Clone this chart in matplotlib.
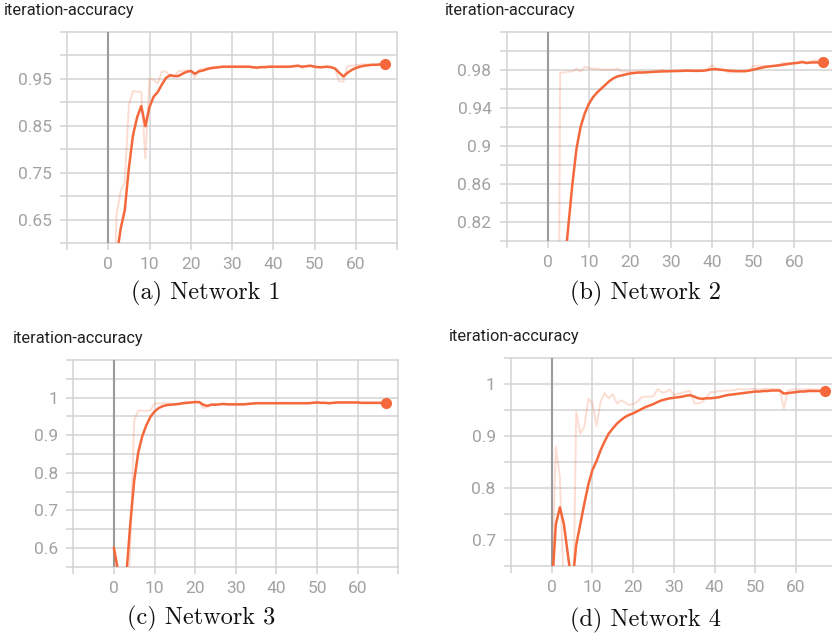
import matplotlib
matplotlib.use("Agg")
import matplotlib.pyplot as plt
import numpy as np

# ---------------- data ----------------
steps = list(range(68))

raw_a = [0.30, 0.35, 0.66, 0.71, 0.73, 0.895, 0.924, 0.923, 0.922, 0.78,
         0.950, 0.948, 0.940, 0.965, 0.966, 0.955, 0.955, 0.966, 0.967, 0.968,
         0.968, 0.953, 0.970, 0.971, 0.973, 0.975, 0.976, 0.976, 0.977, 0.976,
         0.976, 0.976, 0.976, 0.976, 0.976, 0.973, 0.974, 0.976, 0.976, 0.976,
         0.976, 0.976, 0.976, 0.975, 0.976, 0.978, 0.979, 0.973, 0.978, 0.979,
         0.975, 0.975, 0.975, 0.977, 0.975, 0.970, 0.945, 0.944, 0.978, 0.978,
         0.979, 0.980, 0.981, 0.981, 0.981, 0.981, 0.982, 0.981]
smooth_a = [0.30, 0.45, 0.57, 0.63, 0.67, 0.76, 0.83, 0.868, 0.892, 0.849,
            0.890, 0.912, 0.922, 0.938, 0.952, 0.958, 0.956, 0.956, 0.961, 0.965,
            0.967, 0.961, 0.966, 0.968, 0.971, 0.973, 0.974, 0.975, 0.976, 0.976,
            0.976, 0.976, 0.976, 0.976, 0.976, 0.975, 0.974, 0.975, 0.975, 0.976,
            0.976, 0.976, 0.976, 0.976, 0.976, 0.977, 0.978, 0.976, 0.977, 0.978,
            0.976, 0.975, 0.975, 0.976, 0.975, 0.972, 0.963, 0.955, 0.963, 0.969,
            0.973, 0.976, 0.978, 0.979, 0.980, 0.980, 0.981, 0.981]

raw_b = [0.10, 0.10, 0.10, 0.977, 0.977, 0.978, 0.978, 0.981, 0.978, 0.983,
         0.982, 0.981, 0.981, 0.980, 0.980, 0.980, 0.980, 0.981, 0.978, 0.978,
         0.978, 0.978, 0.978, 0.978, 0.978, 0.978, 0.978, 0.979, 0.980, 0.978,
         0.979, 0.979, 0.979, 0.979, 0.980, 0.979, 0.979, 0.979, 0.979, 0.981,
         0.985, 0.981, 0.980, 0.980, 0.977, 0.977, 0.978, 0.978, 0.978, 0.979,
         0.984, 0.984, 0.984, 0.984, 0.983, 0.984, 0.984, 0.987, 0.987, 0.987,
         0.987, 0.988, 0.989, 0.986, 0.989, 0.990, 0.990, 0.988]
smooth_b = [0.10, 0.20, 0.35, 0.62, 0.77, 0.815, 0.860, 0.897, 0.920, 0.934,
            0.944, 0.951, 0.956, 0.960, 0.964, 0.968, 0.971, 0.973, 0.974, 0.975,
            0.976, 0.9765, 0.977, 0.977, 0.9772, 0.9775, 0.9778, 0.978, 0.9782, 0.9783,
            0.9785, 0.9785, 0.9787, 0.9788, 0.979, 0.9788, 0.9788, 0.9788, 0.979, 0.9797,
            0.9805, 0.9805, 0.980, 0.9795, 0.979, 0.9788, 0.9785, 0.9785, 0.9785, 0.979,
            0.980, 0.981, 0.982, 0.983, 0.9835, 0.984, 0.9845, 0.985, 0.9857, 0.9863,
            0.9868, 0.9873, 0.988, 0.9872, 0.9875, 0.9877, 0.9877, 0.9877]

raw_c = [0.60, 0.45, 0.30, 0.35, 0.60, 0.94, 0.966, 0.965, 0.965, 0.966,
         0.984, 0.984, 0.985, 0.985, 0.984, 0.983, 0.984, 0.986, 0.987, 0.988,
         0.988, 0.988, 0.972, 0.975, 0.984, 0.982, 0.983, 0.983, 0.982, 0.982,
         0.982, 0.982, 0.982, 0.984, 0.985, 0.985, 0.985, 0.985, 0.985, 0.985,
         0.985, 0.986, 0.986, 0.985, 0.985, 0.985, 0.985, 0.985, 0.986, 0.987,
         0.988, 0.986, 0.986, 0.985, 0.987, 0.987, 0.987, 0.988, 0.987, 0.987,
         0.987, 0.986, 0.986, 0.986, 0.986, 0.986, 0.986, 0.986]
smooth_c = [0.60, 0.54, 0.45, 0.52, 0.66, 0.78, 0.855, 0.898, 0.927, 0.949,
            0.963, 0.972, 0.977, 0.980, 0.981, 0.982, 0.983, 0.985, 0.986, 0.987,
            0.988, 0.988, 0.981, 0.978, 0.981, 0.981, 0.982, 0.983, 0.982, 0.982,
            0.982, 0.982, 0.982, 0.983, 0.984, 0.985, 0.985, 0.985, 0.985, 0.985,
            0.985, 0.985, 0.985, 0.985, 0.985, 0.985, 0.985, 0.985, 0.985, 0.986,
            0.987, 0.986, 0.986, 0.985, 0.986, 0.987, 0.987, 0.987, 0.987, 0.987,
            0.987, 0.986, 0.986, 0.986, 0.986, 0.986, 0.986, 0.986]

raw_d = [0.60, 0.88, 0.82, 0.60, 0.45, 0.40, 0.947, 0.905, 0.918, 0.972,
         0.963, 0.920, 0.966, 0.983, 0.973, 0.981, 0.963, 0.969, 0.965, 0.960,
         0.962, 0.966, 0.975, 0.976, 0.976, 0.977, 0.991, 0.984, 0.985, 0.990,
         0.979, 0.982, 0.983, 0.986, 0.987, 0.963, 0.963, 0.966, 0.975, 0.985,
         0.985, 0.987, 0.987, 0.988, 0.988, 0.989, 0.991, 0.990, 0.990, 0.991,
         0.991, 0.990, 0.991, 0.991, 0.991, 0.991, 0.990, 0.953, 0.988, 0.990,
         0.990, 0.990, 0.990, 0.991, 0.990, 0.990, 0.989, 0.988]
smooth_d = [0.60, 0.73, 0.763, 0.73, 0.67, 0.61, 0.69, 0.73, 0.77, 0.807,
            0.835, 0.852, 0.873, 0.890, 0.905, 0.915, 0.924, 0.931, 0.937, 0.941,
            0.944, 0.948, 0.952, 0.956, 0.959, 0.962, 0.966, 0.969, 0.971, 0.973,
            0.974, 0.975, 0.976, 0.978, 0.979, 0.976, 0.973, 0.972, 0.973, 0.973,
            0.974, 0.975, 0.977, 0.979, 0.980, 0.981, 0.982, 0.983, 0.984, 0.985,
            0.986, 0.986, 0.987, 0.987, 0.988, 0.988, 0.988, 0.982, 0.983, 0.984,
            0.985, 0.986, 0.986, 0.987, 0.987, 0.987, 0.987, 0.987]

x_ticks = [-10, 0, 10, 20, 30, 40, 50, 60, 70]
x_labels = ["", "0", "10", "20", "30", "40", "50", "60", ""]

yticks_a = [0.60, 0.65, 0.70, 0.75, 0.80, 0.85, 0.90, 0.95, 1.00, 1.05]
ylabels_a = ["", "0.65", "", "0.75", "", "0.85", "", "0.95", "", ""]
yticks_b = [0.80, 0.82, 0.84, 0.86, 0.88, 0.90, 0.92, 0.94, 0.96, 0.98, 1.00, 1.02]
ylabels_b = ["", "0.82", "", "0.86", "", "0.9", "", "0.94", "", "0.98", "", ""]
yticks_c = [0.55, 0.60, 0.65, 0.70, 0.75, 0.80, 0.85, 0.90, 0.95, 1.00, 1.05, 1.10]
ylabels_c = ["", "0.6", "", "0.7", "", "0.8", "", "0.9", "", "1", "", ""]
yticks_d = [0.65, 0.70, 0.75, 0.80, 0.85, 0.90, 0.95, 1.00, 1.05]
ylabels_d = ["", "0.7", "", "0.8", "", "0.9", "", "1", ""]

titles = ["iteration-accuracy"] * 4
captions = ["(a) Network 1", "(b) Network 2", "(c) Network 3", "(d) Network 4"]

# ---------------- style ----------------
W, H = 832, 635
LINE = "#f4683b"
GRID = "#d3d3d3"
TICKLAB = "#a2a2a2"

fig = plt.figure(figsize=(W / 100, H / 100), dpi=100)


def px_axes(l, r, t, b):
    return fig.add_axes([l / W, 1 - b / H, (r - l) / W, (b - t) / H])


panels = [
    dict(box=(67, 397, 32, 243), raw=raw_a, sm=smooth_a, yt=yticks_a, yl=ylabels_a,
         ylim=(0.60, 1.05), title_xy=(4, 10), cap_xy=(206, 293)),
    dict(box=(506.7, 835.3, 31.7, 240.7), raw=raw_b, sm=smooth_b, yt=yticks_b, yl=ylabels_b,
         ylim=(0.80, 1.02), title_xy=(445, 10), cap_xy=(646, 293)),
    dict(box=(73.3, 398.3, 360, 566.7), raw=raw_c, sm=smooth_c, yt=yticks_c, yl=ylabels_c,
         ylim=(0.55, 1.10), title_xy=(12.5, 338), cap_xy=(201, 618)),
    dict(box=(511, 836.8, 358.3, 566), raw=raw_d, sm=smooth_d, yt=yticks_d, yl=ylabels_d,
         ylim=(0.65, 1.05), title_xy=(449, 337), cap_xy=(646, 620)),
]

for i, p in enumerate(panels):
    ax = px_axes(*p["box"])
    ax.set_xlim(-10, 70)
    ax.set_ylim(*p["ylim"])
    for s in ax.spines.values():
        s.set_visible(False)
    ax.set_xticks(x_ticks)
    ax.set_xticklabels(x_labels)
    ax.set_yticks(p["yt"])
    ax.set_yticklabels(p["yl"])
    ax.tick_params(axis="both", length=5, width=1.1, color=GRID,
                   labelcolor=TICKLAB, labelsize=12.5)
    ax.tick_params(axis="x", pad=5)
    ax.tick_params(axis="y", pad=6)
    for lab in ax.get_xticklabels() + ax.get_yticklabels():
        lab.set_fontfamily("Roboto")
    ax.grid(True, color=GRID, linewidth=1.1, clip_on=False)
    ax.set_axisbelow(True)
    ax.axvline(0, color="#9a9a9a", linewidth=1.5, zorder=1.5)
    ax.plot(steps, p["raw"], color=LINE, alpha=0.22, linewidth=1.4, zorder=2)
    ax.plot(steps, p["sm"], color=LINE, linewidth=1.8, zorder=3)
    ax.plot([steps[-1]], [p["sm"][-1]], "o", color=LINE, markersize=7,
            zorder=4, clip_on=False)

    tx, ty = p["title_xy"]
    fig.text(tx / W, 1 - ty / H, titles[i], ha="left", va="center",
             fontsize=11.8, family="Roboto", color="#212121")
    cx, cy = p["cap_xy"]
    fig.text(cx / W, 1 - cy / H, captions[i], ha="center", va="center",
             fontsize=17.5, family="cmr10", color="#111111")

fig.savefig("out.png", dpi=100)
